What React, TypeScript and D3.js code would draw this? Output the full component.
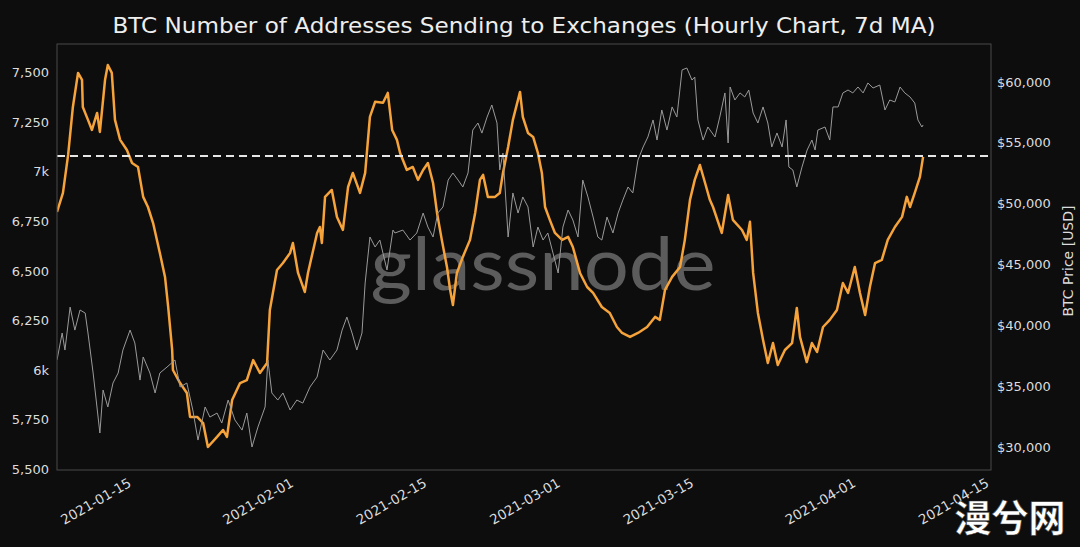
import React from "react";
import * as d3 from "d3";

const TITLE = "BTC Number of Addresses Sending to Exchanges (Hourly Chart, 7d MA)";
const RIGHT_LABEL = "BTC Price [USD]";
const THRESHOLD = 7081;

const addrTimes = [
  "01-07T00","01-07T15","01-08T04","01-08T16","01-09T05","01-09T15","01-09T17","01-10T06","01-10T16","01-11T05",
  "01-11T12","01-12T01","01-12T08","01-12T18","01-13T02","01-13T15","01-14T08","01-14T21","01-15T12","01-16T01",
  "01-16T13","01-17T02","01-17T19","01-18T08","01-18T16","01-19T02","01-19T04","01-19T22","01-20T15","01-20T23",
  "01-21T17","01-22T08","01-22T20","01-23T19","01-24T10","01-24T20","01-25T09","01-26T05","01-26T22","01-27T14",
  "01-28T07","01-29T01","01-29T08","01-30T02","01-30T17","01-31T11","01-31T18","02-01T07","02-02T00","02-02T08",
  "02-03T07","02-03T14","02-03T19","02-04T03","02-04T20","02-05T09","02-06T00","02-06T13","02-07T01","02-07T19",
  "02-08T08","02-08T20","02-09T09","02-10T05","02-10T17","02-11T04","02-11T16","02-12T00","02-12T17","02-13T08",
  "02-13T21","02-14T10","02-14T22","02-15T11","02-15T21","02-16T09","02-16T22","02-17T06","02-17T13","02-17T23",
  "02-18T14","02-19T08","02-19T21","02-20T09","02-20T17","02-21T05","02-21T23","02-22T11","02-22T19","02-23T08",
  "02-23T20","02-24T14","02-24T21","02-25T10","02-25T23","02-26T11","02-26T21","02-27T05","02-27T17","02-28T06",
  "03-01T00","03-01T15","03-02T03","03-02T21","03-03T15","03-04T06","03-05T04","03-06T00","03-06T18","03-07T07",
  "03-08T03","03-08T23","03-09T22","03-10T18","03-11T06","03-11T19","03-12T13","03-13T09","03-13T21","03-14T10",
  "03-14T22","03-15T11","03-16T00","03-16T12","03-16T20","03-17T18","03-18T10","03-18T22","03-19T21","03-20T09",
  "03-20T17","03-21T01","03-21T13","03-22T02","03-22T14","03-23T03","03-23T15","03-24T09","03-25T03","03-25T15",
  "03-25T23","03-26T16","03-27T05","03-27T18","03-28T09","03-29T02","03-29T20","03-30T11","03-31T00","03-31T17",
  "04-01T06","04-01T19","04-02T07","04-02T20","04-03T13","04-04T04","04-04T22","04-05T16","04-06T04","04-06T12",
  "04-07T00","04-07T13","04-07T21"
];
const addrValues = [
  6798,6894,7086,7328,7500,7465,7328,7263,7212,7298,
  7202,7465,7540,7500,7263,7162,7111,7045,7025,6874,
  6823,6742,6591,6470,6318,6101,6000,5934,5884,5763,
  5763,5732,5611,5662,5697,5662,5848,5934,5949,6050,
  5985,6035,6303,6505,6540,6591,6641,6490,6394,6490,
  6692,6722,6641,6874,6909,6773,6707,6924,6995,6894,
  6995,7278,7354,7349,7399,7212,7162,7096,7010,7025,
  6960,7010,7045,6944,6793,6657,6520,6404,6328,6490,
  6571,6657,6793,6960,6985,6874,6874,6894,6995,7126,
  7263,7404,7278,7197,7177,7096,6995,6823,6758,6692,
  6657,6672,6621,6490,6419,6389,6318,6288,6217,6187,
  6167,6187,6217,6268,6253,6404,6470,6520,6657,6859,
  6960,7035,6944,6859,6823,6692,6884,6758,6707,6657,
  6748,6490,6288,6151,6035,6136,6025,6101,6136,6313,
  6167,6040,6136,6091,6217,6253,6303,6439,6389,6520,
  6389,6278,6419,6540,6556,6657,6722,6773,6874,6823,
  6894,6975,7076
];

const priceTimes = [
  "01-07T00","01-07T13","01-07T20","01-08T09","01-08T21","01-09T10","01-09T23","01-10T06","01-10T19","01-11T12",
  "01-11T20","01-12T08","01-12T21","01-13T10","01-13T22","01-14T16","01-15T04","01-15T17","01-16T01","01-16T18",
  "01-17T07","01-17T19","01-18T13","01-19T09","01-19T22","01-20T15","01-21T06","01-21T19","01-22T13","01-23T01",
  "01-23T19","01-24T07","01-24T23","01-25T16","01-26T10","01-26T22","01-27T11","01-28T02","01-28T20","01-29T03",
  "01-29T13","01-30T04","01-30T17","01-31T11","02-01T04","02-01T19","02-02T13","02-03T07","02-03T22","02-04T15",
  "02-05T09","02-05T22","02-06T10","02-06T23","02-07T11","02-08T00","02-08T08","02-08T20","02-09T09","02-09T21",
  "02-10T15","02-11T06","02-11T11","02-12T07","02-13T01","02-13T18","02-14T10","02-14T22","02-15T11","02-15T23",
  "02-16T12","02-17T01","02-17T13","02-18T02","02-18T14","02-19T03","02-19T15","02-20T04","02-20T14","02-21T03",
  "02-21T15","02-22T04","02-22T11","02-22T19","02-23T08","02-23T20","02-24T09","02-24T21","02-25T10","02-25T23",
  "02-26T11","02-27T00","02-27T12","02-28T01","02-28T14","03-01T02","03-01T15","03-02T03","03-02T16","03-03T04",
  "03-03T17","03-04T06","03-04T18","03-05T04","03-05T17","03-06T08","03-06T21","03-07T09","03-07T22","03-08T10",
  "03-08T23","03-09T12","03-10T00","03-10T13","03-10T23","03-11T11","03-12T00","03-12T13","03-13T01","03-13T14",
  "03-14T02","03-14T15","03-14T22","03-15T06","03-15T19","03-16T07","03-17T01","03-17T13","03-18T02","03-18T10",
  "03-18T15","03-19T03","03-19T16","03-20T04","03-20T14","03-21T01","03-21T13","03-22T02","03-22T14","03-23T00",
  "03-23T13","03-24T02","03-24T12","03-24T19","03-25T05","03-25T15","03-26T04","03-26T17","03-27T05","03-27T13",
  "03-27T20","03-28T14","03-29T02","03-29T10","03-29T23","03-30T11","03-31T00","03-31T12","04-01T01","04-01T14",
  "04-02T02","04-02T15","04-03T08","04-03T21","04-04T09","04-04T22","04-05T11","04-05T23","04-06T12","04-07T00",
  "04-07T08","04-07T18","04-07T21"
];
const priceValues = [
  37150,39370,37970,41500,39610,41260,41010,39370,36080,31150,
  34680,33290,35260,36080,37970,39610,38550,35500,37400,36080,
  34440,36080,36570,37150,34930,35260,33040,30570,33290,32460,
  32790,31970,33860,32220,31390,32790,30000,31640,33290,37150,
  34440,33860,34440,33040,33860,33610,34930,35750,37970,37150,
  37970,39610,40680,39370,37970,39370,43480,47260,46440,47010,
  44550,47830,47590,47830,47010,47590,49230,48080,47260,49230,
  49730,51940,52520,51940,51370,52520,56050,56630,55800,57120,
  58110,56630,52770,54160,47260,50880,49230,50550,49730,46440,
  48080,47010,47590,45940,44300,48080,49480,48660,47260,51940,
  50550,48900,47260,47010,48900,47590,49230,50300,51370,50880,
  53590,54660,55480,56880,55230,57700,56050,57950,57120,60990,
  61150,60160,60410,56880,55230,56300,55480,57120,59100,54990,
  59590,58520,59100,58770,59340,57450,56630,57950,56630,54660,
  55810,54660,56880,53010,52770,51370,53010,54410,55230,54410,
  56050,56300,55230,57950,57950,59100,59340,59100,59590,59100,
  59920,59510,59750,57700,58520,58360,59590,59100,58770,58270,
  56880,56300,56470
];

const leftTicks = [5500, 5750, 6000, 6250, 6500, 6750, 7000, 7250, 7500];
const rightTicks = [30000, 35000, 40000, 45000, 50000, 55000, 60000];
const xTicks = ["2021-01-15", "2021-02-01", "2021-02-15", "2021-03-01", "2021-03-15", "2021-04-01", "2021-04-15"];
const xDomain = ["2021-01-07", "2021-04-15"];
const leftDomain = [5495, 7646];
const rightDomain = [28110, 63123];

const W = 1080, H = 547;
const M = { left: 57, right: 991, top: 44, bottom: 470 };
const FONT = "'DejaVu Sans', sans-serif";
const BG = "#0d0d0d";
const TEXT = "#dcdcdc";

const parseT = d3.utcParse("%Y-%m-%dT%H");
const parseD = d3.utcParse("%Y-%m-%d");

export default function App() {
  const x = d3.scaleUtc().domain(xDomain.map((s) => parseD(s) as Date)).range([M.left, M.right]);
  const yL = d3.scaleLinear().domain(leftDomain).range([M.bottom, M.top]);
  const yR = d3.scaleLinear().domain(rightDomain).range([M.bottom, M.top]);

  const addr = addrTimes.map((t, i) => ({ t: parseT("2021-" + t) as Date, v: addrValues[i] }));
  const price = priceTimes.map((t, i) => ({ t: parseT("2021-" + t) as Date, v: priceValues[i] }));

  const addrLine = d3.line<{ t: Date; v: number }>().x((d) => x(d.t)).y((d) => yL(d.v));
  const priceLine = d3.line<{ t: Date; v: number }>().x((d) => x(d.t)).y((d) => yR(d.v));

  const fmtL = (v: number) => (v % 1000 === 0 ? `${v / 1000}k` : d3.format(",")(v));
  const fmtR = (v: number) => "$" + d3.format(",")(v);

  return (
    <svg width={W} height={H} style={{ position: "fixed", left: 0, top: 0, background: BG }} fontFamily={FONT}>
      <rect x={0} y={0} width={W} height={H} fill={BG} />
      <text x={(M.left + M.right) / 2} y={33} textAnchor="middle" fill="#eeeeee" fontSize={22} textLength={823} lengthAdjust="spacingAndGlyphs">
        {TITLE}
      </text>
      {/* watermark */}
      <text x={543} y={290} textAnchor="middle" fill="#5c5c5c" fontSize={74} fontFamily="Lato, 'Open Sans', sans-serif" textLength={345} lengthAdjust="spacingAndGlyphs">
        glassnode
      </text>
      <clipPath id="plot">
        <rect x={M.left} y={M.top} width={M.right - M.left} height={M.bottom - M.top} />
      </clipPath>
      <g clipPath="url(#plot)">
        <path d={addrLine(addr) || ""} fill="none" stroke="#f5a33a" strokeWidth={2.5} strokeLinejoin="round" />
        <path d={priceLine(price) || ""} fill="none" stroke="#9a9a9a" strokeWidth={1} strokeLinejoin="round" />
        <line x1={M.left} x2={M.right} y1={yL(THRESHOLD)} y2={yL(THRESHOLD)} stroke="#e6e6e6" strokeWidth={2} strokeDasharray="8,5" />
      </g>
      <rect x={M.left} y={M.top} width={M.right - M.left} height={M.bottom - M.top} fill="none" stroke="#4a4a4a" strokeWidth={1} />
      {leftTicks.map((v) => (
        <text key={v} x={M.left - 8} y={yL(v)} dy="0.35em" textAnchor="end" fill={TEXT} fontSize={13}>
          {fmtL(v)}
        </text>
      ))}
      {rightTicks.map((v) => (
        <text key={v} x={M.right + 6} y={yR(v)} dy="0.35em" textAnchor="start" fill={TEXT} fontSize={13}>
          {fmtR(v)}
        </text>
      ))}
      <text transform={`translate(1073,${(M.top + M.bottom) / 2 + 4}) rotate(-90)`} textAnchor="middle" fill={TEXT} fontSize={14}>
        {RIGHT_LABEL}
      </text>
      {xTicks.map((s) => {
        const xx = x(parseD(s) as Date);
        return (
          <text key={s} transform={`translate(${xx - 6},${M.bottom + 7}) rotate(-30)`} textAnchor="end" dy="0.75em" fill={TEXT} fontSize={13.5}>
            {s}
          </text>
        );
      })}
      <text x={1010} y={532} textAnchor="middle" fill="#ffffff" fontSize={37} fontWeight="bold" fontFamily="'Noto Sans CJK SC', sans-serif" stroke="#333" strokeWidth={0.5}>
        漫兮网
      </text>
    </svg>
  );
}
